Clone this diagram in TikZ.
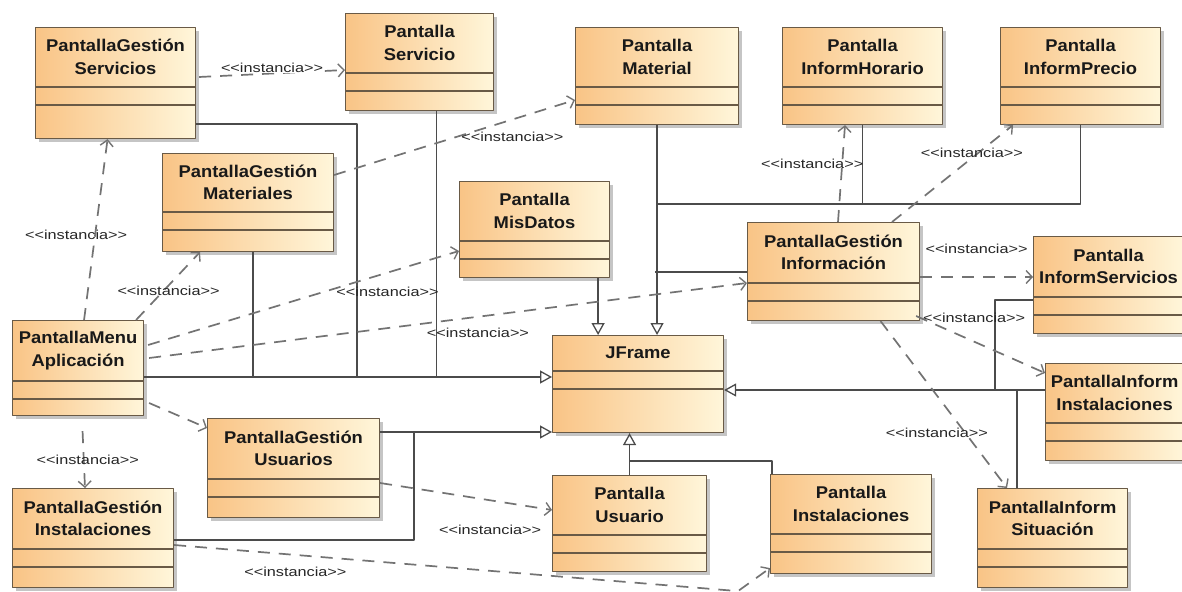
\documentclass[tikz,border=0pt]{standalone}
\usepackage{fontspec}
\newfontfamily\umlfont[FakeStretch=1.08]{Liberation Sans}
\newfontfamily\instfont[FakeStretch=1.25]{Liberation Sans}
\usetikzlibrary{arrows.meta,calc,shadows}
\definecolor{boxL}{RGB}{249,196,134}
\definecolor{boxR}{RGB}{255,246,218}
\definecolor{boxD}{RGB}{105,90,70}
\definecolor{linG}{RGB}{75,75,75}
\definecolor{dasG}{RGB}{115,115,115}
% name, x, y, width, height, header height, title
\newcommand{\umlclass}[7]{%
  \node[classbox, minimum width=#4, minimum height=#5] (#1) at (#2,#3) {};
  \node[classname] (#1-t) at ($(#1.north)+(0,#6/2)$) {#7};
  \draw[boxD, line width=1.1pt] ($(#1.north west)+(0,#6)$) -- ($(#1.north east)+(0,#6)$)
    ($(#1.north west)+(0,#6+18)$) -- ($(#1.north east)+(0,#6+18)$);
}
\begin{document}
\begin{tikzpicture}[x=1pt, y=-1pt, line join=round,
  classbox/.style={draw=boxD, line width=1.1pt, left color=boxL, right color=boxR,
    anchor=north west, inner sep=0pt,
    drop shadow={shadow xshift=3pt, shadow yshift=-3pt, fill=black!45, opacity=.5}},
  classname/.style={font=\umlfont\bfseries\fontsize{17}{22.5}\selectfont, align=center,
    text=black!90, inner sep=0pt},
  tree/.style={linG, line width=1.3pt},
  gen/.style={tree, -{Triangle[open, length=12pt, width=13pt, fill=white]}},
  inst/.style={dasG, line width=1.7pt, dash pattern=on 12pt off 9pt,
    -{Straight Barb[length=6pt, width=13pt, line width=1.4pt]}},
  lbl/.style={font=\instfont\fontsize{13}{15}\selectfont, text=black!85, inner sep=1pt}]
\fill[white] (0,0) rectangle (1182,591);
\useasboundingbox (0,0) rectangle (1182,591);

\umlclass{gserv}{35}{27}{160}{111}{60}{PantallaGestión\\Servicios}
\umlclass{pserv}{345}{13}{148}{97}{60}{Pantalla\\Servicio}
\umlclass{pmat}{575}{27}{163}{97}{60}{Pantalla\\Material}
\umlclass{phor}{782}{27}{160}{97}{60}{Pantalla\\InformHorario}
\umlclass{pprec}{1000}{27}{160}{97}{60}{Pantalla\\InformPrecio}
\umlclass{gmat}{162}{153}{171}{98}{59}{PantallaGestión\\Materiales}
\umlclass{pdat}{459}{181}{150}{96}{60}{Pantalla\\MisDatos}
\umlclass{ginf}{747}{222}{172}{98}{61}{PantallaGestión\\Información}
\umlclass{isrv}{1033}{236}{150}{97}{61}{Pantalla\\InformServicios}
\umlclass{iinst}{1045}{363}{138}{97}{60}{PantallaInform\\Instalaciones}
\umlclass{jframe}{552}{335}{171}{97}{36}{JFrame}
\umlclass{menu}{12}{320}{131}{95}{61}{PantallaMenu\\Aplicación}
\umlclass{gusr}{207}{418}{172}{99}{61}{PantallaGestión\\Usuarios}
\umlclass{ginst}{12}{488}{161}{99}{61}{PantallaGestión\\Instalaciones}
\umlclass{pusr}{552}{475}{154}{96}{60}{Pantalla\\Usuario}
\umlclass{pinst}{770}{474}{161}{99}{60}{Pantalla\\Instalaciones}
\umlclass{isit}{977}{488}{150}{99}{61}{PantallaInform\\Situación}

% joints of the inheritance lines
\path
  ($(menu.north east)+(0,57)$) coordinate (busW)
  ($(busW)+(213,0)$) coordinate (jS)
  ($(gmat.south)+(5,0)$) coordinate (gM)
  ($(pserv.south)+(17,0)$) coordinate (pS)
  ($(gusr.north east)+(0,14)$) coordinate (busU)
  ($(busU)+(34,0)$) coordinate (jU)
  ($(pdat.south east)+(-12,0)$) coordinate (pD)
  ($(pmat.south)+(0,79)$) coordinate (busM)
  ($(pusr.north)+(0,-14)$) coordinate (busB)
  ($(iinst.north west)+(0,27)$) coordinate (busE)
  ($(busE)+(-50,0)$) coordinate (jE)
  ($(isit.north west)+(40,0)$) coordinate (sT);

\draw[gen] (busW) -- (busW -| jframe.west);
\draw[tree] ($(gserv.north east)+(0,97)$) -| (jS);
\draw[tree] (gM) -- (gM |- busW);
\draw[tree] (pS) -- (pS |- busW);
\draw[gen] (busU) -- (busU -| jframe.west);
\draw[tree] ($(ginst.north east)+(0,52)$) -| (jU);
\draw[gen] (pD) -- (pD |- jframe.north);
\draw[gen] (pmat.south) -- (pmat.south |- jframe.north);
\draw[tree] (busM) -| (pprec.south);
\draw[tree] (phor.south) -- (phor.south |- busM);
\draw[tree] ($(ginf.north west)+(0,50)$) -- +(-92,0);
\draw[gen] (pusr.north) -- (pusr.north |- jframe.south);
\draw[tree] (busB) -| ($(pinst.north west)+(2,0)$);
\draw[gen] (busE) -- (busE -| jframe.east);
\draw[tree] ($(isrv.north west)+(0,64)$) -| (jE);
\draw[tree] (sT) -- (sT |- busE);

% instancia dependencies
\draw[inst] ($(gserv.north east)+(3,50)$) -- node[lbl, fill=white, pos=.5, yshift=6pt] (l1) {<{}<instancia>{}>} ($(pserv.north west)+(0,57)$);
\draw[inst] ($(menu.north)+(6,0)$) -- node[lbl, pos=.47, xshift=-19pt] (l2) {<{}<instancia>{}>} ($(gserv.south)+(-8,0)$);
\draw[inst] ($(menu.north)+(58,0)$) -- node[lbl, pos=.43, xshift=5pt] (l3) {<{}<instancia>{}>} ($(gmat.south west)+(38,0)$);
\draw[inst] ($(menu.north east)+(4,25)$) -- node[lbl, pos=.77, yshift=-19pt] (l4) {<{}<instancia>{}>} ($(pdat.north west)+(0,70)$);
\draw[inst] ($(menu.north east)+(5,38)$) -- node[lbl, pos=.55, yshift=-16pt] (l5) {<{}<instancia>{}>} ($(ginf.north west)+(0,61)$);
\draw[inst] ($(gmat.north east)+(0,22)$) -- node[lbl, pos=.74, yshift=-17pt] (l6) {<{}<instancia>{}>} ($(pmat.north west)+(0,73)$);
\draw[inst] ($(menu.north east)+(5,83)$) -- ($(gusr.north west)+(0,10)$);
\draw[inst] ($(menu.south)+(4.5,15)$) -- node[lbl, pos=.5, xshift=4pt] (l8) {<{}<instancia>{}>} ($(ginst.north west)+(73,0)$);
\draw[inst] ($(gusr.north east)+(0,65)$) -- node[lbl, pos=.64, yshift=-30pt] (l9) {<{}<instancia>{}>} ($(pusr.north west)+(0,35)$);
\draw[inst] ($(ginst.north east)+(0,57)$) -- node[lbl, pos=.215, yshift=-17pt] (l10) {<{}<instancia>{}>} ($(pinst.south west)+(-32,17)$) -- ($(pinst.south west)+(0,-6)$);
\draw[inst] ($(ginf.north west)+(91,0)$) -- node[lbl, pos=.6, xshift=-30pt] (l11) {<{}<instancia>{}>} ($(phor.south west)+(63,0)$);
\draw[inst] ($(ginf.north west)+(145,0)$) -- node[lbl, pos=.71, xshift=-6pt] (l12) {<{}<instancia>{}>} ($(pprec.south west)+(13,0)$);
\draw[inst] ($(ginf.north east)+(0,55)$) -- node[lbl, pos=.5, yshift=28pt] (l13) {<{}<instancia>{}>} ($(isrv.north west)+(0,41)$);
\draw[inst] ($(ginf.north east)+(-4,94)$) -- node[lbl, pos=.45, yshift=24pt] (l14) {<{}<instancia>{}>} ($(iinst.north west)+(0,10)$);
\draw[inst] ($(ginf.south)+(47,0)$) -- node[lbl, pos=.667, xshift=-28pt] (l15) {<{}<instancia>{}>} ($(isit.north west)+(30,0)$);
\end{tikzpicture}
\end{document}
